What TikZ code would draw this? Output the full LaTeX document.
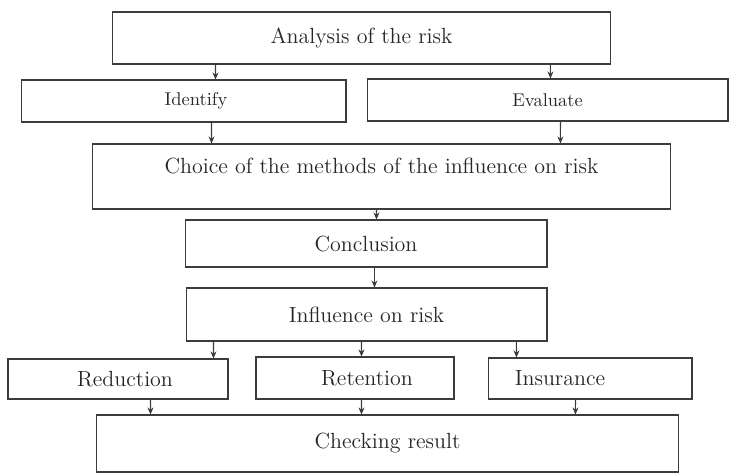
\documentclass[tikz,border=0pt]{standalone}
\usepackage{xcolor}
\usepackage{tikz}
\usetikzlibrary{arrows.meta}
\definecolor{ink}{HTML}{3c3c3c}
\definecolor{txtcol}{HTML}{262626}

\begin{document}
\begin{tikzpicture}[x=0.02cm, y=-0.02cm,
  txt/.style={font=\fontsize{12.5}{15}\selectfont, text=txtcol},
  box/.style={draw=ink, line width=0.6pt, inner sep=0pt, txt},
  sbox/.style={box, font=\fontsize{10.5}{13}\selectfont},
  arr/.style={draw=ink, line width=0.6pt, -{Stealth[length=4pt, width=3.4pt]}}]
\useasboundingbox (0,0) rectangle (729,473);
% boxes
\node[box, minimum width=9.98cm, minimum height=1.04cm] (ana) at (361.5,38) {Analysis of the risk};
\node[sbox, minimum width=6.5cm, minimum height=0.84cm] (idf) at (183.5,101) {\hspace*{0.5cm}Identify};
\node[sbox, minimum width=7.22cm, minimum height=0.84cm] (evl) at (547.5,100) {Evaluate};
\node[box, minimum width=11.58cm, minimum height=1.3cm, label={[txt, yshift=0.21cm]center:Choice of the methods of the influence on risk}] (cho) at (381.5,176.5) {};
\node[box, minimum width=7.24cm, minimum height=0.94cm] (con) at (366,243.5) {Conclusion};
\node[box, minimum width=7.22cm, minimum height=1.06cm] (inf) at (366.5,314.5) {Influence on risk};
\node[box, minimum width=4.4cm, minimum height=0.8cm] (red) at (118,379) {\hspace*{0.28cm}Reduction};
\node[box, minimum width=3.96cm, minimum height=0.84cm] (ret) at (355,378) {\hspace*{0.48cm}Retention};
\node[box, minimum width=4.08cm, minimum height=0.82cm, label={[txt, xshift=-0.6cm]center:Insurance}] (ins) at (590,378.5) {};
\node[box, minimum width=11.66cm, minimum height=1.14cm] (chk) at (387.5,443.5) {Checking result};
% arrows
\draw[arr] ([xshift=2.08cm]ana.south west) -- ([xshift=3.9cm]idf.north west);
\draw[arr] ([xshift=8.78cm]ana.south west) -- ([xshift=3.68cm]evl.north west);
\draw[arr] ([xshift=3.82cm]idf.south west) -- ([xshift=2.4cm]cho.north west);
\draw[arr] ([xshift=3.88cm]evl.south west) -- ([xshift=9.38cm]cho.north west);
\draw[arr] ([xshift=5.7cm]cho.south west) -- ([xshift=3.84cm]con.north west);
\draw[arr] ([xshift=3.8cm]con.south west) -- ([xshift=3.78cm]inf.north west);
\draw[arr] ([xshift=0.56cm]inf.south west) -- ([xshift=4.12cm]red.north west);
\draw[arr] ([xshift=3.52cm]inf.south west) -- ([xshift=2.12cm]ret.north west);
\draw[arr] ([xshift=6.62cm]inf.south west) -- ([xshift=0.58cm]ins.north west);
\draw[arr] ([xshift=2.86cm]red.south west) -- ([xshift=1.1cm]chk.north west);
\draw[arr] ([xshift=2.12cm]ret.south west) -- ([xshift=5.32cm]chk.north west);
\draw[arr] ([xshift=1.76cm]ins.south west) -- ([xshift=9.6cm]chk.north west);
\end{tikzpicture}
\end{document}
